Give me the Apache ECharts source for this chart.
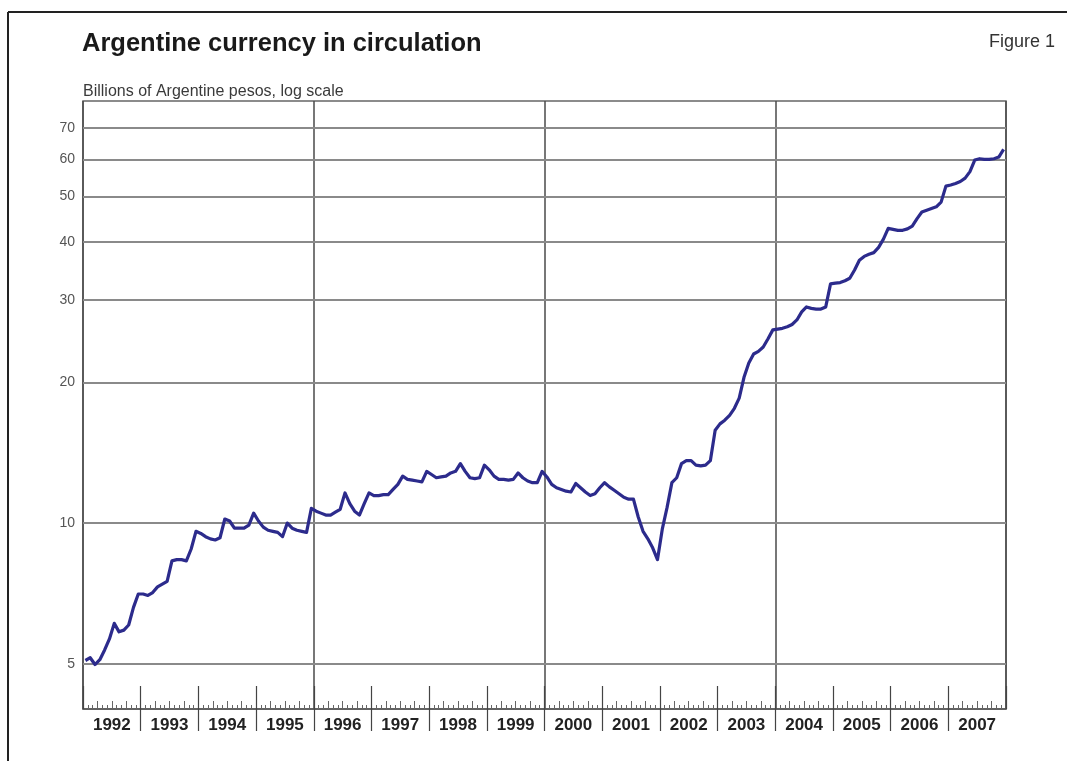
<!DOCTYPE html>
<html>
<head>
<meta charset="utf-8">
<script src="https://cdn.jsdelivr.net/npm/echarts@6/dist/echarts.min.js"></script>
<style>
  html, body { margin: 0; padding: 0; background: #fff; }
  #chart { width: 1067px; height: 761px; }
</style>
</head>
<body>
<div id="chart"></div>
<script>
// Currency in circulation, billions of pesos, monthly (Jan..Dec) per year
const years = ['1992','1993','1994','1995','1996','1997','1998','1999',
               '2000','2001','2002','2003','2004','2005','2006','2007'];
const v1992 = [5.08, 5.15, 4.98, 5.10, 5.35, 5.65, 6.10, 5.85, 5.90, 6.05, 6.60, 7.05];
const v1993 = [7.05, 7.00, 7.10, 7.30, 7.40, 7.50, 8.30, 8.35, 8.35, 8.30, 8.80, 9.60];
const v1994 = [9.50, 9.35, 9.25, 9.20, 9.30, 10.20, 10.10, 9.75, 9.75, 9.75, 9.90, 10.50];
const v1995 = [10.10, 9.80, 9.65, 9.60, 9.55, 9.35, 10.00, 9.75, 9.65, 9.60, 9.55, 10.75];
const v1996 = [10.60, 10.50, 10.40, 10.40, 10.55, 10.70, 11.60, 11.00, 10.60, 10.40, 11.00, 11.60];
const v1997 = [11.45, 11.45, 11.50, 11.50, 11.80, 12.10, 12.60, 12.40, 12.35, 12.30, 12.25, 12.90];
const v1998 = [12.70, 12.50, 12.55, 12.60, 12.80, 12.90, 13.40, 12.90, 12.50, 12.45, 12.50, 13.30];
const v1999 = [13.00, 12.60, 12.40, 12.40, 12.35, 12.40, 12.80, 12.50, 12.30, 12.20, 12.20, 12.90];
const v2000 = [12.55, 12.10, 11.90, 11.80, 11.70, 11.65, 12.15, 11.90, 11.65, 11.45, 11.55, 11.90];
const v2001 = [12.20, 11.95, 11.75, 11.55, 11.35, 11.25, 11.25, 10.30, 9.60, 9.25, 8.85, 8.35];
const v2002 = [9.70, 10.80, 12.20, 12.50, 13.40, 13.60, 13.60, 13.30, 13.25, 13.30, 13.60, 15.80];
const v2003 = [16.30, 16.60, 17.00, 17.60, 18.50, 20.50, 22.00, 23.00, 23.30, 23.80, 24.80, 25.90];
const v2004 = [26.00, 26.10, 26.30, 26.60, 27.20, 28.30, 29.00, 28.80, 28.70, 28.70, 29.00, 32.50];
const v2005 = [32.60, 32.70, 33.00, 33.40, 34.80, 36.50, 37.20, 37.60, 37.90, 38.90, 40.50, 42.70];
const v2006 = [42.50, 42.30, 42.30, 42.60, 43.20, 44.80, 46.30, 46.70, 47.10, 47.50, 48.60, 52.60];
const v2007 = [52.90, 53.30, 53.80, 54.70, 56.50, 59.80, 60.20, 60.00, 60.00, 60.20, 60.70, 63.00];

const yTicks = [5, 10, 20, 30, 40, 50, 60, 70];
const dividerYears = years.slice(1, 15);   // interior year boundaries below the axis

const values = [].concat(v1992, v1993, v1994, v1995, v1996, v1997, v1998, v1999,
                         v2000, v2001, v2002, v2003, v2004, v2005, v2006, v2007);
const months = [];
const quarters = [];
years.forEach(y => {
  for (let m = 1; m <= 12; m++) months.push(y + '-' + (m < 10 ? '0' + m : m));
  for (let q = 1; q <= 4; q++) quarters.push(y + ' Q' + q);
});

const FONT = '"Liberation Sans", Arial, Helvetica, sans-serif';
const plot = { left: 83, right: 61, top: 101, bottom: 52 };
const yearW = (1067 - plot.left - plot.right) / years.length;

const chart = echarts.init(document.getElementById('chart'), null, { renderer: 'canvas' });

chart.setOption({
  animation: false,
  backgroundColor: '#fff',
  title: [
    { text: 'Argentine currency in circulation', left: 77, top: 26,
      textStyle: { fontFamily: FONT, fontSize: 25.5, fontWeight: 'bold', color: '#1a1a1a' } },
    { text: 'Billions of Argentine pesos, log scale', left: 78, top: 79,
      textStyle: { fontFamily: FONT, fontSize: 16, fontWeight: 'normal', color: '#3a3a3a' } },
    { text: 'Figure 1', right: 7, top: 28,
      textStyle: { fontFamily: FONT, fontSize: 18, fontWeight: 'normal', color: '#333' } }
  ],
  graphic: [
    { type: 'line', shape: { x1: 8, y1: 12, x2: 1067, y2: 12 }, style: { stroke: '#222', lineWidth: 2 } },
    { type: 'line', shape: { x1: 8, y1: 12, x2: 8, y2: 761 }, style: { stroke: '#222', lineWidth: 2 } }
  ],
  grid: [
    Object.assign({ show: true, borderColor: '#666', borderWidth: 1.5, backgroundColor: 'transparent', z: 0 }, plot),
    Object.assign({}, plot),
    Object.assign({}, plot),
    { left: plot.left + yearW, right: plot.right + yearW, top: plot.top, bottom: plot.bottom },
    Object.assign({}, plot)
  ],
  xAxis: [
    { // months: data axis with short ticks
      gridIndex: 0, type: 'category', data: months, boundaryGap: true,
      axisLine: { show: true, lineStyle: { color: '#555', width: 1.5 } },
      axisTick: { show: true, inside: true, length: 4, interval: 0, lineStyle: { color: '#666', width: 1 } },
      axisLabel: { show: false }, splitLine: { show: false }
    },
    { // quarters: taller ticks
      gridIndex: 1, type: 'category', data: quarters, boundaryGap: true,
      axisLine: { show: false },
      axisTick: { show: true, inside: true, length: 8, interval: 0, lineStyle: { color: '#666', width: 1 } },
      axisLabel: { show: false }, splitLine: { show: false }
    },
    { // years: dividers above the axis and labels
      gridIndex: 2, type: 'category', data: years, boundaryGap: true,
      axisLine: { show: false },
      axisTick: { show: true, inside: true, length: 23, interval: 0, lineStyle: { color: '#444', width: 1.2 } },
      axisLabel: { show: true, interval: 0, margin: 8, fontFamily: FONT, fontSize: 17,
                   fontWeight: 'bold', color: '#222' },
      splitLine: { show: false }
    },
    { // interior year dividers below the axis
      gridIndex: 3, type: 'category', data: dividerYears, boundaryGap: true,
      axisLine: { show: false },
      axisTick: { show: true, inside: false, length: 22, interval: 0, lineStyle: { color: '#444', width: 1.2 } },
      axisLabel: { show: false }, splitLine: { show: false }
    },
    { // four-year vertical rules
      gridIndex: 4, type: 'value', min: 1992, max: 2008, interval: 4,
      axisLine: { show: false }, axisTick: { show: false }, axisLabel: { show: false },
      splitLine: { show: true, lineStyle: { color: '#4a4a4a', width: 1.5 } }
    }
  ],
  yAxis: [
    { gridIndex: 0, type: 'log', logBase: 10, min: 4, max: 80,
      axisLine: { show: false }, axisTick: { show: false }, axisLabel: { show: false },
      splitLine: { show: false }, minorSplitLine: { show: false } },
    { gridIndex: 1, type: 'value', show: false },
    { gridIndex: 2, type: 'value', show: false },
    { gridIndex: 3, type: 'value', show: false },
    { gridIndex: 4, type: 'value', show: false }
  ],
  series: [
    { // horizontal gridlines with their value labels
      type: 'line', xAxisIndex: 0, yAxisIndex: 0, data: [], z: 1, silent: true,
      markLine: {
        silent: true, symbol: ['none', 'none'], z: 1, animation: false,
        lineStyle: { color: '#8a8a8a', width: 2, type: 'solid' },
        label: { show: true, position: 'start', distance: 8, formatter: p => String(p.value),
                 fontFamily: FONT, fontSize: 14, color: '#555' },
        emphasis: { disabled: true },
        data: yTicks.map(v => ({ yAxis: v }))
      }
    },
    {
      name: 'Currency in circulation', type: 'line', xAxisIndex: 0, yAxisIndex: 0,
      data: values, symbol: 'none', smooth: false, z: 5,
      lineStyle: { color: '#2c2b8c', width: 3.2, join: 'round' }
    }
  ]
});
</script>
</body>
</html>
